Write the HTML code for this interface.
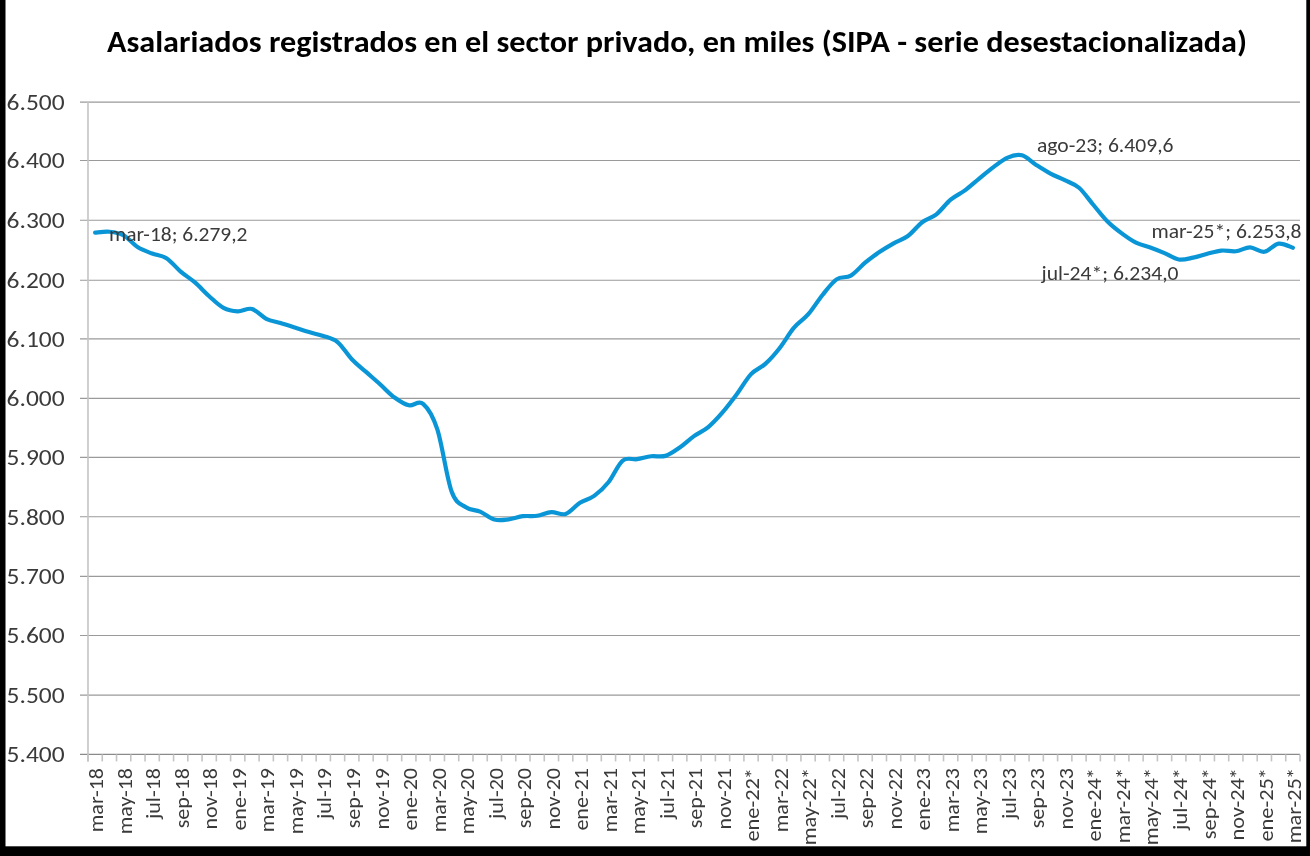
<!DOCTYPE html>
<html><head><meta charset="utf-8"><title>Asalariados registrados</title>
<style>
html,body{margin:0;padding:0;background:#000;}
body{width:1310px;height:856px;overflow:hidden;position:relative;}
svg{position:absolute;left:0;top:0;display:block;will-change:transform;}
</style></head>
<body>
<svg width="1310" height="856" viewBox="0 0 1310 856">
<rect x="0" y="0" width="1310" height="856" fill="#000"/>
<rect x="5.5" y="0" width="1300.8" height="846.3" fill="#fff"/>
<text x="107" y="52" font-family="Carlito, &quot;Liberation Sans&quot;, Arial, sans-serif" font-size="31" font-weight="bold" fill="#000" textLength="1140" lengthAdjust="spacingAndGlyphs">Asalariados registrados en el sector privado, en miles (SIPA - serie desestacionalizada)</text>
<g font-family="Carlito, &quot;Liberation Sans&quot;, Arial, sans-serif" font-size="22.5" fill="#3a3a3a">
<line x1="80" y1="102.10" x2="1300.0" y2="102.10" stroke="#9a9a9a" stroke-width="1.1"/>
<line x1="80" y1="160.50" x2="1300.0" y2="160.50" stroke="#9a9a9a" stroke-width="1.1"/>
<line x1="80" y1="220.20" x2="1300.0" y2="220.20" stroke="#9a9a9a" stroke-width="1.1"/>
<line x1="80" y1="280.20" x2="1300.0" y2="280.20" stroke="#9a9a9a" stroke-width="1.1"/>
<line x1="80" y1="338.90" x2="1300.0" y2="338.90" stroke="#9a9a9a" stroke-width="1.1"/>
<line x1="80" y1="398.40" x2="1300.0" y2="398.40" stroke="#9a9a9a" stroke-width="1.1"/>
<line x1="80" y1="457.40" x2="1300.0" y2="457.40" stroke="#9a9a9a" stroke-width="1.1"/>
<line x1="80" y1="516.70" x2="1300.0" y2="516.70" stroke="#9a9a9a" stroke-width="1.1"/>
<line x1="80" y1="576.40" x2="1300.0" y2="576.40" stroke="#9a9a9a" stroke-width="1.1"/>
<line x1="80" y1="635.50" x2="1300.0" y2="635.50" stroke="#9a9a9a" stroke-width="1.1"/>
<line x1="80" y1="695.10" x2="1300.0" y2="695.10" stroke="#9a9a9a" stroke-width="1.1"/>
<line x1="80" y1="754.40" x2="1300.0" y2="754.40" stroke="#8a8a8a" stroke-width="1.2"/>
<line x1="88.0" y1="101.69" x2="88.0" y2="761.40" stroke="#c4c4c4" stroke-width="1.6"/>
<line x1="88.00" y1="754.40" x2="88.00" y2="761.40" stroke="#c4c4c4" stroke-width="1.6"/>
<line x1="102.26" y1="754.40" x2="102.26" y2="761.40" stroke="#c4c4c4" stroke-width="1.6"/>
<line x1="116.52" y1="754.40" x2="116.52" y2="761.40" stroke="#c4c4c4" stroke-width="1.6"/>
<line x1="130.78" y1="754.40" x2="130.78" y2="761.40" stroke="#c4c4c4" stroke-width="1.6"/>
<line x1="145.04" y1="754.40" x2="145.04" y2="761.40" stroke="#c4c4c4" stroke-width="1.6"/>
<line x1="159.29" y1="754.40" x2="159.29" y2="761.40" stroke="#c4c4c4" stroke-width="1.6"/>
<line x1="173.55" y1="754.40" x2="173.55" y2="761.40" stroke="#c4c4c4" stroke-width="1.6"/>
<line x1="187.81" y1="754.40" x2="187.81" y2="761.40" stroke="#c4c4c4" stroke-width="1.6"/>
<line x1="202.07" y1="754.40" x2="202.07" y2="761.40" stroke="#c4c4c4" stroke-width="1.6"/>
<line x1="216.33" y1="754.40" x2="216.33" y2="761.40" stroke="#c4c4c4" stroke-width="1.6"/>
<line x1="230.59" y1="754.40" x2="230.59" y2="761.40" stroke="#c4c4c4" stroke-width="1.6"/>
<line x1="244.85" y1="754.40" x2="244.85" y2="761.40" stroke="#c4c4c4" stroke-width="1.6"/>
<line x1="259.11" y1="754.40" x2="259.11" y2="761.40" stroke="#c4c4c4" stroke-width="1.6"/>
<line x1="273.36" y1="754.40" x2="273.36" y2="761.40" stroke="#c4c4c4" stroke-width="1.6"/>
<line x1="287.62" y1="754.40" x2="287.62" y2="761.40" stroke="#c4c4c4" stroke-width="1.6"/>
<line x1="301.88" y1="754.40" x2="301.88" y2="761.40" stroke="#c4c4c4" stroke-width="1.6"/>
<line x1="316.14" y1="754.40" x2="316.14" y2="761.40" stroke="#c4c4c4" stroke-width="1.6"/>
<line x1="330.40" y1="754.40" x2="330.40" y2="761.40" stroke="#c4c4c4" stroke-width="1.6"/>
<line x1="344.66" y1="754.40" x2="344.66" y2="761.40" stroke="#c4c4c4" stroke-width="1.6"/>
<line x1="358.92" y1="754.40" x2="358.92" y2="761.40" stroke="#c4c4c4" stroke-width="1.6"/>
<line x1="373.18" y1="754.40" x2="373.18" y2="761.40" stroke="#c4c4c4" stroke-width="1.6"/>
<line x1="387.44" y1="754.40" x2="387.44" y2="761.40" stroke="#c4c4c4" stroke-width="1.6"/>
<line x1="401.69" y1="754.40" x2="401.69" y2="761.40" stroke="#c4c4c4" stroke-width="1.6"/>
<line x1="415.95" y1="754.40" x2="415.95" y2="761.40" stroke="#c4c4c4" stroke-width="1.6"/>
<line x1="430.21" y1="754.40" x2="430.21" y2="761.40" stroke="#c4c4c4" stroke-width="1.6"/>
<line x1="444.47" y1="754.40" x2="444.47" y2="761.40" stroke="#c4c4c4" stroke-width="1.6"/>
<line x1="458.73" y1="754.40" x2="458.73" y2="761.40" stroke="#c4c4c4" stroke-width="1.6"/>
<line x1="472.99" y1="754.40" x2="472.99" y2="761.40" stroke="#c4c4c4" stroke-width="1.6"/>
<line x1="487.25" y1="754.40" x2="487.25" y2="761.40" stroke="#c4c4c4" stroke-width="1.6"/>
<line x1="501.51" y1="754.40" x2="501.51" y2="761.40" stroke="#c4c4c4" stroke-width="1.6"/>
<line x1="515.76" y1="754.40" x2="515.76" y2="761.40" stroke="#c4c4c4" stroke-width="1.6"/>
<line x1="530.02" y1="754.40" x2="530.02" y2="761.40" stroke="#c4c4c4" stroke-width="1.6"/>
<line x1="544.28" y1="754.40" x2="544.28" y2="761.40" stroke="#c4c4c4" stroke-width="1.6"/>
<line x1="558.54" y1="754.40" x2="558.54" y2="761.40" stroke="#c4c4c4" stroke-width="1.6"/>
<line x1="572.80" y1="754.40" x2="572.80" y2="761.40" stroke="#c4c4c4" stroke-width="1.6"/>
<line x1="587.06" y1="754.40" x2="587.06" y2="761.40" stroke="#c4c4c4" stroke-width="1.6"/>
<line x1="601.32" y1="754.40" x2="601.32" y2="761.40" stroke="#c4c4c4" stroke-width="1.6"/>
<line x1="615.58" y1="754.40" x2="615.58" y2="761.40" stroke="#c4c4c4" stroke-width="1.6"/>
<line x1="629.84" y1="754.40" x2="629.84" y2="761.40" stroke="#c4c4c4" stroke-width="1.6"/>
<line x1="644.09" y1="754.40" x2="644.09" y2="761.40" stroke="#c4c4c4" stroke-width="1.6"/>
<line x1="658.35" y1="754.40" x2="658.35" y2="761.40" stroke="#c4c4c4" stroke-width="1.6"/>
<line x1="672.61" y1="754.40" x2="672.61" y2="761.40" stroke="#c4c4c4" stroke-width="1.6"/>
<line x1="686.87" y1="754.40" x2="686.87" y2="761.40" stroke="#c4c4c4" stroke-width="1.6"/>
<line x1="701.13" y1="754.40" x2="701.13" y2="761.40" stroke="#c4c4c4" stroke-width="1.6"/>
<line x1="715.39" y1="754.40" x2="715.39" y2="761.40" stroke="#c4c4c4" stroke-width="1.6"/>
<line x1="729.65" y1="754.40" x2="729.65" y2="761.40" stroke="#c4c4c4" stroke-width="1.6"/>
<line x1="743.91" y1="754.40" x2="743.91" y2="761.40" stroke="#c4c4c4" stroke-width="1.6"/>
<line x1="758.16" y1="754.40" x2="758.16" y2="761.40" stroke="#c4c4c4" stroke-width="1.6"/>
<line x1="772.42" y1="754.40" x2="772.42" y2="761.40" stroke="#c4c4c4" stroke-width="1.6"/>
<line x1="786.68" y1="754.40" x2="786.68" y2="761.40" stroke="#c4c4c4" stroke-width="1.6"/>
<line x1="800.94" y1="754.40" x2="800.94" y2="761.40" stroke="#c4c4c4" stroke-width="1.6"/>
<line x1="815.20" y1="754.40" x2="815.20" y2="761.40" stroke="#c4c4c4" stroke-width="1.6"/>
<line x1="829.46" y1="754.40" x2="829.46" y2="761.40" stroke="#c4c4c4" stroke-width="1.6"/>
<line x1="843.72" y1="754.40" x2="843.72" y2="761.40" stroke="#c4c4c4" stroke-width="1.6"/>
<line x1="857.98" y1="754.40" x2="857.98" y2="761.40" stroke="#c4c4c4" stroke-width="1.6"/>
<line x1="872.24" y1="754.40" x2="872.24" y2="761.40" stroke="#c4c4c4" stroke-width="1.6"/>
<line x1="886.49" y1="754.40" x2="886.49" y2="761.40" stroke="#c4c4c4" stroke-width="1.6"/>
<line x1="900.75" y1="754.40" x2="900.75" y2="761.40" stroke="#c4c4c4" stroke-width="1.6"/>
<line x1="915.01" y1="754.40" x2="915.01" y2="761.40" stroke="#c4c4c4" stroke-width="1.6"/>
<line x1="929.27" y1="754.40" x2="929.27" y2="761.40" stroke="#c4c4c4" stroke-width="1.6"/>
<line x1="943.53" y1="754.40" x2="943.53" y2="761.40" stroke="#c4c4c4" stroke-width="1.6"/>
<line x1="957.79" y1="754.40" x2="957.79" y2="761.40" stroke="#c4c4c4" stroke-width="1.6"/>
<line x1="972.05" y1="754.40" x2="972.05" y2="761.40" stroke="#c4c4c4" stroke-width="1.6"/>
<line x1="986.31" y1="754.40" x2="986.31" y2="761.40" stroke="#c4c4c4" stroke-width="1.6"/>
<line x1="1000.56" y1="754.40" x2="1000.56" y2="761.40" stroke="#c4c4c4" stroke-width="1.6"/>
<line x1="1014.82" y1="754.40" x2="1014.82" y2="761.40" stroke="#c4c4c4" stroke-width="1.6"/>
<line x1="1029.08" y1="754.40" x2="1029.08" y2="761.40" stroke="#c4c4c4" stroke-width="1.6"/>
<line x1="1043.34" y1="754.40" x2="1043.34" y2="761.40" stroke="#c4c4c4" stroke-width="1.6"/>
<line x1="1057.60" y1="754.40" x2="1057.60" y2="761.40" stroke="#c4c4c4" stroke-width="1.6"/>
<line x1="1071.86" y1="754.40" x2="1071.86" y2="761.40" stroke="#c4c4c4" stroke-width="1.6"/>
<line x1="1086.12" y1="754.40" x2="1086.12" y2="761.40" stroke="#c4c4c4" stroke-width="1.6"/>
<line x1="1100.38" y1="754.40" x2="1100.38" y2="761.40" stroke="#c4c4c4" stroke-width="1.6"/>
<line x1="1114.64" y1="754.40" x2="1114.64" y2="761.40" stroke="#c4c4c4" stroke-width="1.6"/>
<line x1="1128.89" y1="754.40" x2="1128.89" y2="761.40" stroke="#c4c4c4" stroke-width="1.6"/>
<line x1="1143.15" y1="754.40" x2="1143.15" y2="761.40" stroke="#c4c4c4" stroke-width="1.6"/>
<line x1="1157.41" y1="754.40" x2="1157.41" y2="761.40" stroke="#c4c4c4" stroke-width="1.6"/>
<line x1="1171.67" y1="754.40" x2="1171.67" y2="761.40" stroke="#c4c4c4" stroke-width="1.6"/>
<line x1="1185.93" y1="754.40" x2="1185.93" y2="761.40" stroke="#c4c4c4" stroke-width="1.6"/>
<line x1="1200.19" y1="754.40" x2="1200.19" y2="761.40" stroke="#c4c4c4" stroke-width="1.6"/>
<line x1="1214.45" y1="754.40" x2="1214.45" y2="761.40" stroke="#c4c4c4" stroke-width="1.6"/>
<line x1="1228.71" y1="754.40" x2="1228.71" y2="761.40" stroke="#c4c4c4" stroke-width="1.6"/>
<line x1="1242.96" y1="754.40" x2="1242.96" y2="761.40" stroke="#c4c4c4" stroke-width="1.6"/>
<line x1="1257.22" y1="754.40" x2="1257.22" y2="761.40" stroke="#c4c4c4" stroke-width="1.6"/>
<line x1="1271.48" y1="754.40" x2="1271.48" y2="761.40" stroke="#c4c4c4" stroke-width="1.6"/>
<line x1="1285.74" y1="754.40" x2="1285.74" y2="761.40" stroke="#c4c4c4" stroke-width="1.6"/>
<line x1="1300.00" y1="754.40" x2="1300.00" y2="761.40" stroke="#c4c4c4" stroke-width="1.6"/>
<text x="64.6" y="110.00" font-size="23" text-anchor="end" textLength="58" lengthAdjust="spacingAndGlyphs">6.500</text>
<text x="64.6" y="168.40" font-size="23" text-anchor="end" textLength="58" lengthAdjust="spacingAndGlyphs">6.400</text>
<text x="64.6" y="228.10" font-size="23" text-anchor="end" textLength="58" lengthAdjust="spacingAndGlyphs">6.300</text>
<text x="64.6" y="288.10" font-size="23" text-anchor="end" textLength="58" lengthAdjust="spacingAndGlyphs">6.200</text>
<text x="64.6" y="346.80" font-size="23" text-anchor="end" textLength="58" lengthAdjust="spacingAndGlyphs">6.100</text>
<text x="64.6" y="406.30" font-size="23" text-anchor="end" textLength="58" lengthAdjust="spacingAndGlyphs">6.000</text>
<text x="64.6" y="465.30" font-size="23" text-anchor="end" textLength="58" lengthAdjust="spacingAndGlyphs">5.900</text>
<text x="64.6" y="524.60" font-size="23" text-anchor="end" textLength="58" lengthAdjust="spacingAndGlyphs">5.800</text>
<text x="64.6" y="584.30" font-size="23" text-anchor="end" textLength="58" lengthAdjust="spacingAndGlyphs">5.700</text>
<text x="64.6" y="643.40" font-size="23" text-anchor="end" textLength="58" lengthAdjust="spacingAndGlyphs">5.600</text>
<text x="64.6" y="703.00" font-size="23" text-anchor="end" textLength="58" lengthAdjust="spacingAndGlyphs">5.500</text>
<text x="64.6" y="762.30" font-size="23" text-anchor="end" textLength="58" lengthAdjust="spacingAndGlyphs">5.400</text>
<text transform="translate(103.33,768) rotate(-90)" text-anchor="end" font-size="21" textLength="64.28" lengthAdjust="spacingAndGlyphs">mar-18</text>
<text transform="translate(131.85,768) rotate(-90)" text-anchor="end" font-size="21" textLength="66.33" lengthAdjust="spacingAndGlyphs">may-18</text>
<text transform="translate(160.36,768) rotate(-90)" text-anchor="end" font-size="21" textLength="51.00" lengthAdjust="spacingAndGlyphs">jul-18</text>
<text transform="translate(188.88,768) rotate(-90)" text-anchor="end" font-size="21" textLength="60.25" lengthAdjust="spacingAndGlyphs">sep-18</text>
<text transform="translate(217.40,768) rotate(-90)" text-anchor="end" font-size="21" textLength="61.64" lengthAdjust="spacingAndGlyphs">nov-18</text>
<text transform="translate(245.92,768) rotate(-90)" text-anchor="end" font-size="21" textLength="62.60" lengthAdjust="spacingAndGlyphs">ene-19</text>
<text transform="translate(274.44,768) rotate(-90)" text-anchor="end" font-size="21" textLength="64.28" lengthAdjust="spacingAndGlyphs">mar-19</text>
<text transform="translate(302.95,768) rotate(-90)" text-anchor="end" font-size="21" textLength="66.33" lengthAdjust="spacingAndGlyphs">may-19</text>
<text transform="translate(331.47,768) rotate(-90)" text-anchor="end" font-size="21" textLength="51.00" lengthAdjust="spacingAndGlyphs">jul-19</text>
<text transform="translate(359.99,768) rotate(-90)" text-anchor="end" font-size="21" textLength="60.25" lengthAdjust="spacingAndGlyphs">sep-19</text>
<text transform="translate(388.51,768) rotate(-90)" text-anchor="end" font-size="21" textLength="61.64" lengthAdjust="spacingAndGlyphs">nov-19</text>
<text transform="translate(417.02,768) rotate(-90)" text-anchor="end" font-size="21" textLength="62.60" lengthAdjust="spacingAndGlyphs">ene-20</text>
<text transform="translate(445.54,768) rotate(-90)" text-anchor="end" font-size="21" textLength="64.28" lengthAdjust="spacingAndGlyphs">mar-20</text>
<text transform="translate(474.06,768) rotate(-90)" text-anchor="end" font-size="21" textLength="66.33" lengthAdjust="spacingAndGlyphs">may-20</text>
<text transform="translate(502.58,768) rotate(-90)" text-anchor="end" font-size="21" textLength="51.00" lengthAdjust="spacingAndGlyphs">jul-20</text>
<text transform="translate(531.09,768) rotate(-90)" text-anchor="end" font-size="21" textLength="60.25" lengthAdjust="spacingAndGlyphs">sep-20</text>
<text transform="translate(559.61,768) rotate(-90)" text-anchor="end" font-size="21" textLength="61.64" lengthAdjust="spacingAndGlyphs">nov-20</text>
<text transform="translate(588.13,768) rotate(-90)" text-anchor="end" font-size="21" textLength="62.60" lengthAdjust="spacingAndGlyphs">ene-21</text>
<text transform="translate(616.65,768) rotate(-90)" text-anchor="end" font-size="21" textLength="64.28" lengthAdjust="spacingAndGlyphs">mar-21</text>
<text transform="translate(645.16,768) rotate(-90)" text-anchor="end" font-size="21" textLength="66.33" lengthAdjust="spacingAndGlyphs">may-21</text>
<text transform="translate(673.68,768) rotate(-90)" text-anchor="end" font-size="21" textLength="51.00" lengthAdjust="spacingAndGlyphs">jul-21</text>
<text transform="translate(702.20,768) rotate(-90)" text-anchor="end" font-size="21" textLength="60.25" lengthAdjust="spacingAndGlyphs">sep-21</text>
<text transform="translate(730.72,768) rotate(-90)" text-anchor="end" font-size="21" textLength="61.64" lengthAdjust="spacingAndGlyphs">nov-21</text>
<text transform="translate(759.24,768) rotate(-90)" text-anchor="end" font-size="21" textLength="73.57" lengthAdjust="spacingAndGlyphs">ene-22<tspan dx="-1">*</tspan></text>
<text transform="translate(787.75,768) rotate(-90)" text-anchor="end" font-size="21" textLength="64.28" lengthAdjust="spacingAndGlyphs">mar-22</text>
<text transform="translate(816.27,768) rotate(-90)" text-anchor="end" font-size="21" textLength="77.30" lengthAdjust="spacingAndGlyphs">may-22<tspan dx="-1">*</tspan></text>
<text transform="translate(844.79,768) rotate(-90)" text-anchor="end" font-size="21" textLength="51.00" lengthAdjust="spacingAndGlyphs">jul-22</text>
<text transform="translate(873.31,768) rotate(-90)" text-anchor="end" font-size="21" textLength="60.25" lengthAdjust="spacingAndGlyphs">sep-22</text>
<text transform="translate(901.82,768) rotate(-90)" text-anchor="end" font-size="21" textLength="61.64" lengthAdjust="spacingAndGlyphs">nov-22</text>
<text transform="translate(930.34,768) rotate(-90)" text-anchor="end" font-size="21" textLength="62.60" lengthAdjust="spacingAndGlyphs">ene-23</text>
<text transform="translate(958.86,768) rotate(-90)" text-anchor="end" font-size="21" textLength="64.28" lengthAdjust="spacingAndGlyphs">mar-23</text>
<text transform="translate(987.38,768) rotate(-90)" text-anchor="end" font-size="21" textLength="66.33" lengthAdjust="spacingAndGlyphs">may-23</text>
<text transform="translate(1015.89,768) rotate(-90)" text-anchor="end" font-size="21" textLength="51.00" lengthAdjust="spacingAndGlyphs">jul-23</text>
<text transform="translate(1044.41,768) rotate(-90)" text-anchor="end" font-size="21" textLength="60.25" lengthAdjust="spacingAndGlyphs">sep-23</text>
<text transform="translate(1072.93,768) rotate(-90)" text-anchor="end" font-size="21" textLength="61.64" lengthAdjust="spacingAndGlyphs">nov-23</text>
<text transform="translate(1101.45,768) rotate(-90)" text-anchor="end" font-size="21" textLength="73.57" lengthAdjust="spacingAndGlyphs">ene-24<tspan dx="-1">*</tspan></text>
<text transform="translate(1129.96,768) rotate(-90)" text-anchor="end" font-size="21" textLength="75.25" lengthAdjust="spacingAndGlyphs">mar-24<tspan dx="-1">*</tspan></text>
<text transform="translate(1158.48,768) rotate(-90)" text-anchor="end" font-size="21" textLength="77.30" lengthAdjust="spacingAndGlyphs">may-24<tspan dx="-1">*</tspan></text>
<text transform="translate(1187.00,768) rotate(-90)" text-anchor="end" font-size="21" textLength="61.97" lengthAdjust="spacingAndGlyphs">jul-24<tspan dx="-1">*</tspan></text>
<text transform="translate(1215.52,768) rotate(-90)" text-anchor="end" font-size="21" textLength="71.22" lengthAdjust="spacingAndGlyphs">sep-24<tspan dx="-1">*</tspan></text>
<text transform="translate(1244.04,768) rotate(-90)" text-anchor="end" font-size="21" textLength="72.61" lengthAdjust="spacingAndGlyphs">nov-24<tspan dx="-1">*</tspan></text>
<text transform="translate(1272.55,768) rotate(-90)" text-anchor="end" font-size="21" textLength="73.57" lengthAdjust="spacingAndGlyphs">ene-25<tspan dx="-1">*</tspan></text>
<text transform="translate(1301.07,768) rotate(-90)" text-anchor="end" font-size="21" textLength="75.25" lengthAdjust="spacingAndGlyphs">mar-25<tspan dx="-1">*</tspan></text>
</g>
<path d="M95.13,232.68 C97.51,232.52 104.64,231.30 109.39,231.73 C114.14,232.17 118.89,232.69 123.65,235.29 C128.40,237.89 133.15,244.30 137.91,247.34 C142.66,250.37 147.41,251.70 152.16,253.51 C156.92,255.31 161.67,255.18 166.42,258.19 C171.18,261.21 175.93,267.56 180.68,271.60 C185.44,275.64 190.19,278.35 194.94,282.46 C199.69,286.56 204.45,291.99 209.20,296.22 C213.95,300.45 218.71,305.34 223.46,307.85 C228.21,310.36 232.96,311.11 237.72,311.29 C242.47,311.47 247.22,307.66 251.98,308.92 C256.73,310.17 261.48,316.48 266.24,318.82 C270.99,321.17 275.74,321.53 280.49,322.98 C285.25,324.42 290.00,325.96 294.75,327.48 C299.51,329.01 304.26,330.70 309.01,332.11 C313.76,333.53 318.52,334.31 323.27,335.97 C328.02,337.63 332.78,338.20 337.53,342.08 C342.28,345.95 347.04,354.25 351.79,359.22 C356.54,364.20 361.29,367.71 366.05,371.92 C370.80,376.13 375.55,380.23 380.31,384.50 C385.06,388.77 389.81,394.08 394.56,397.55 C399.32,401.02 404.07,404.27 408.82,405.32 C413.58,406.37 418.33,399.81 423.08,403.84 C427.84,407.86 432.59,414.84 437.34,429.47 C442.09,444.09 446.85,478.63 451.60,491.58 C456.35,504.53 461.11,503.85 465.86,507.18 C470.61,510.52 475.36,509.53 480.12,511.57 C484.87,513.62 489.62,518.18 494.38,519.46 C499.13,520.75 503.88,519.83 508.64,519.29 C513.39,518.74 518.14,516.78 522.89,516.20 C527.65,515.62 532.40,516.48 537.15,515.79 C541.91,515.09 546.66,512.35 551.41,512.05 C556.16,511.74 560.92,515.49 565.67,513.95 C570.42,512.40 575.18,505.80 579.93,502.79 C584.68,499.79 589.44,499.33 594.19,495.91 C598.94,492.49 603.69,488.16 608.45,482.27 C613.20,476.37 617.95,464.40 622.71,460.55 C627.46,456.71 632.21,459.91 636.96,459.19 C641.72,458.47 646.47,456.78 651.22,456.22 C655.98,455.67 660.73,457.32 665.48,455.87 C670.24,454.41 674.99,450.79 679.74,447.50 C684.49,444.21 689.25,439.52 694.00,436.11 C698.75,432.70 703.51,430.99 708.26,427.03 C713.01,423.08 717.76,417.85 722.52,412.38 C727.27,406.91 732.02,400.59 736.78,394.23 C741.53,387.86 746.28,379.23 751.04,374.17 C755.79,369.12 760.54,368.24 765.29,363.91 C770.05,359.58 774.80,354.19 779.55,348.19 C784.31,342.19 789.06,333.52 793.81,327.90 C798.56,322.28 803.32,319.94 808.07,314.49 C812.82,309.04 817.58,301.06 822.33,295.21 C827.08,289.36 831.84,282.64 836.59,279.37 C841.34,276.10 846.09,278.35 850.85,275.57 C855.60,272.80 860.35,266.62 865.11,262.70 C869.86,258.79 874.61,255.31 879.36,252.08 C884.12,248.85 888.87,245.97 893.62,243.30 C898.38,240.63 903.13,239.57 907.88,236.06 C912.64,232.55 917.39,225.87 922.14,222.24 C926.89,218.61 931.65,218.06 936.40,214.29 C941.15,210.52 945.91,203.62 950.66,199.64 C955.41,195.65 960.16,193.89 964.92,190.38 C969.67,186.87 974.42,182.45 979.18,178.58 C983.93,174.70 988.68,170.62 993.44,167.13 C998.19,163.64 1002.94,159.60 1007.69,157.63 C1012.45,155.67 1017.20,154.10 1021.95,155.32 C1026.71,156.54 1031.46,161.89 1036.21,164.93 C1040.96,167.98 1045.72,171.06 1050.47,173.59 C1055.22,176.12 1059.98,177.76 1064.73,180.12 C1069.48,182.48 1074.24,183.67 1078.99,187.77 C1083.74,191.88 1088.49,199.11 1093.25,204.74 C1098.00,210.37 1102.75,216.75 1107.51,221.53 C1112.26,226.30 1117.01,229.86 1121.76,233.39 C1126.52,236.92 1131.27,240.35 1136.02,242.71 C1140.78,245.06 1145.53,245.77 1150.28,247.51 C1155.04,249.25 1159.79,251.15 1164.54,253.15 C1169.29,255.15 1174.05,258.75 1178.80,259.50 C1183.55,260.25 1188.31,258.62 1193.06,257.66 C1197.81,256.70 1202.56,254.93 1207.32,253.74 C1212.07,252.56 1216.82,250.95 1221.58,250.54 C1226.33,250.12 1231.08,251.77 1235.84,251.25 C1240.59,250.73 1245.34,247.31 1250.09,247.39 C1254.85,247.48 1259.60,252.42 1264.35,251.78 C1269.11,251.15 1273.86,244.27 1278.61,243.60 C1283.36,242.93 1290.49,247.06 1292.87,247.75" fill="none" stroke="#0a96d6" stroke-width="4.2" stroke-linejoin="round" stroke-linecap="round"/>
<g font-family="Carlito, &quot;Liberation Sans&quot;, Arial, sans-serif" font-size="21" fill="#3a3a3a">
<text x="109" y="240.5" textLength="138.5" lengthAdjust="spacingAndGlyphs">mar-18; 6.279,2</text>
<text x="1037" y="152.1" textLength="136.5" lengthAdjust="spacingAndGlyphs">ago-23; 6.409,6</text>
<text x="1041.5" y="279.7" textLength="137" lengthAdjust="spacingAndGlyphs">jul-24*; 6.234,0</text>
<text x="1151.5" y="238.1" textLength="150" lengthAdjust="spacingAndGlyphs">mar-25*; 6.253,8</text>
</g>
</svg>
</body></html>
